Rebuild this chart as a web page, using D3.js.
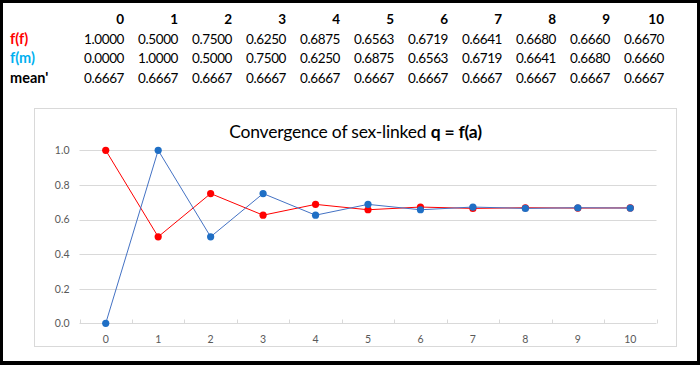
<!DOCTYPE html>
<html>
<head>
<meta charset="utf-8">
<script src="https://cdn.jsdelivr.net/npm/d3@7"></script>
<style>
  body { margin: 0; background: #fff; }
  svg { display: block; }
</style>
</head>
<body>
<svg id="chart" width="700" height="365"></svg>
<script>
// generations (columns of the table, categories of the chart)
const gens = [0, 1, 2, 3, 4, 5, 6, 7, 8, 9, 10];
// frequency in females / males, and the weighted mean
const fFemale = [1.0000, 0.5000, 0.7500, 0.6250, 0.6875, 0.6563, 0.6719, 0.6641, 0.6680, 0.6660, 0.6670];
const fMale   = [0.0000, 1.0000, 0.5000, 0.7500, 0.6250, 0.6875, 0.6563, 0.6719, 0.6641, 0.6680, 0.6660];
const meanPrime = [0.6667, 0.6667, 0.6667, 0.6667, 0.6667, 0.6667, 0.6667, 0.6667, 0.6667, 0.6667, 0.6667];
const yTicks = [0.0, 0.2, 0.4, 0.6, 0.8, 1.0];

const font = "Lato, 'Open Sans', sans-serif";
let svg = d3.select('#chart');

// outer black frame
svg.append('rect').attr('width', 700).attr('height', 365).attr('fill', '#000');
svg.append('rect').attr('x', 3).attr('y', 3).attr('width', 694).attr('height', 358).attr('fill', '#fff');

// ---- the table above the chart ----
let colX = d3.scalePoint().domain(gens).range([124, 664]);
let rows = [
    {label: 'f(f)', color: '#ff0000', values: fFemale},
    {label: 'f(m)', color: '#00b0f0', values: fMale},
    {label: "mean'", color: '#000', values: meanPrime}
];
let table = svg.append('g').style('font-family', font).style('font-size', '13.5px');

table.selectAll('text.head')
    .data(gens)
    .join('text')
    .attr('class', 'head')
    .attr('x', d => colX(d))
    .attr('y', 24)
    .attr('text-anchor', 'end')
    .attr('font-weight', 'bold')
    .text(d => d);

rows.forEach((r, i) => {
    let yy = 43.5 + i * 19.7;
    table.append('text')
        .attr('x', 10).attr('y', yy)
        .attr('fill', r.color)
        .attr('font-weight', 'bold')
        .style('font-size', '14.5px')
        .text(r.label);
    table.selectAll('text.v' + i)
        .data(r.values)
        .join('text')
        .attr('class', 'v' + i)
        .attr('x', (d, j) => colX(gens[j]))
        .attr('y', yy)
        .attr('text-anchor', 'end')
        .style('letter-spacing', '-0.4px')
        .text(d => d.toFixed(4));
});

// ---- chart ----
svg.append('rect')
    .attr('x', 34.5).attr('y', 108.5)
    .attr('width', 642).attr('height', 238)
    .attr('fill', '#fff').attr('stroke', '#d9d9d9');

let x = d3.scaleBand().domain(gens).range([79.5, 656.5]);
let y = d3.scaleLinear().domain([0, 1]).range([323.3, 150.3]);
let yPix = v => Math.round(y(v)) + 0.5;

// title
svg.append('text')
    .attr('x', 355.5).attr('y', 137.5)
    .attr('text-anchor', 'middle')
    .style('font-family', font)
    .style('font-size', '17.5px')
    .style('letter-spacing', '-0.2px')
    .attr('fill', '#000')
    .call(t => {
        t.append('tspan').text('Convergence of sex-linked ');
        t.append('tspan').attr('font-weight', 'bold').text('q = f(a)');
    });

// gridlines
svg.append('g').selectAll('line')
    .data(yTicks.filter(d => d > 0))
    .join('line')
    .attr('x1', 79.5).attr('x2', 656.5)
    .attr('y1', d => yPix(d)).attr('y2', d => yPix(d))
    .attr('stroke', '#d9d9d9');

// x axis line and boundary ticks
let base = yPix(0);
svg.append('line')
    .attr('x1', 79.5).attr('x2', 656.5)
    .attr('y1', base).attr('y2', base)
    .attr('stroke', '#d9d9d9');
let bounds = gens.map(g => x(g)).concat([x(10) + x.bandwidth()]);
svg.append('g').selectAll('line')
    .data(bounds)
    .join('line')
    .attr('x1', d => Math.round(d) + 0.5).attr('x2', d => Math.round(d) + 0.5)
    .attr('y1', base).attr('y2', base - 4)
    .attr('stroke', '#d9d9d9');

// axis labels
let yAxis = svg.append('g')
    .attr('transform', 'translate(79.5,0)')
    .call(d3.axisLeft(y).tickValues(yTicks).tickFormat(d3.format('.1f')).tickSize(0).tickPadding(10));
let xAxis = svg.append('g')
    .attr('transform', `translate(0,${base})`)
    .call(d3.axisBottom(x).tickSize(0).tickPadding(12));
[yAxis, xAxis].forEach(a => {
    a.select('.domain').remove();
    a.selectAll('text')
        .style('font-family', font)
        .style('font-size', '10.5px')
        .attr('fill', '#595959');
});

// series
let line = d3.line()
    .x((d, i) => x(gens[i]) + x.bandwidth() / 2)
    .y(d => y(d));

let series = [
    {values: fFemale, stroke: '#ff0000', dot: '#ff0000'},
    {values: fMale, stroke: '#4472c4', dot: '#1f6fc5'}
];
series.forEach(s => {
    svg.append('path')
        .datum(s.values)
        .attr('fill', 'none')
        .attr('stroke', s.stroke)
        .attr('stroke-width', 1)
        .attr('d', line);
    svg.append('g').selectAll('circle')
        .data(s.values)
        .join('circle')
        .attr('cx', (d, i) => x(gens[i]) + x.bandwidth() / 2)
        .attr('cy', d => y(d))
        .attr('r', 3.6)
        .attr('fill', s.dot);
});
</script>
</body>
</html>
